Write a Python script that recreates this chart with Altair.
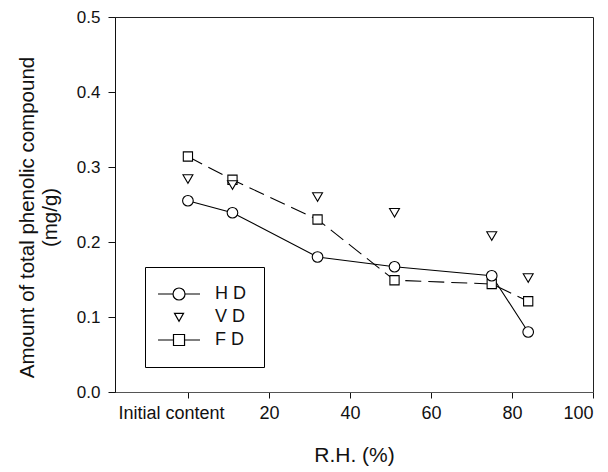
import altair as alt
import pandas as pd

# ---- data ----
rh = [0, 11, 32, 51, 75, 84]
hd = [0.255, 0.239, 0.180, 0.167, 0.155, 0.080]
vd = [0.284, 0.276, 0.260, 0.239, 0.208, 0.152]
fd = [0.314, 0.283, 0.230, 0.149, 0.144, 0.121]
series_names = ["H D", "V D", "F D"]
x_ticks = [0, 20, 40, 60, 80, 100]
y_ticks = [0.0, 0.1, 0.2, 0.3, 0.4, 0.5]

rows = []
for name, vals in zip(series_names, [hd, vd, fd]):
    for x, y in zip(rh, vals):
        rows.append({"rh": x, "val": y, "series": name})
df = pd.DataFrame(rows)

FONT = "Liberation Sans"

x_enc = alt.X(
    "rh:Q",
    scale=alt.Scale(domain=[-18, 100], nice=False, zero=False),
    axis=alt.Axis(
        values=x_ticks,
        title="R.H. (%)",
        labelExpr="datum.value == 0 ? 'Initial content' : datum.label",
        labelOffset={"condition": {"test": "datum.value == 0", "value": -17}, "value": 0},
        tickSize=6,
        labelPadding=6,
        labelFontSize=18,
        titleFontSize=21,
        titlePadding=22,
        grid=False,
        domainColor="#555555",
    ),
)
y_enc = alt.Y(
    "val:Q",
    scale=alt.Scale(domain=[0, 0.5], nice=False),
    axis=alt.Axis(
        values=y_ticks,
        format=".1f",
        title=["Amount of total phenolic compound", "(mg/g)"],
        tickSize=7,
        labelPadding=8,
        labelFontSize=17,
        titleFontSize=20.5,
        titleFontWeight="normal",
        titlePadding=16,
        titleY=200,
        grid=False,
    ),
)

base = alt.Chart(df)

hd_line = base.transform_filter("datum.series == 'H D'").mark_line(
    color="black", strokeWidth=1.1
).encode(x=x_enc, y=y_enc)

fd_line = base.transform_filter("datum.series == 'F D'").mark_line(
    color="black", strokeWidth=1.1, strokeDash=[16, 7]
).encode(x=x_enc, y=y_enc)

points = base.mark_point(
    filled=False, fill="white", fillOpacity=1, stroke="black", strokeWidth=1.1, opacity=1
).encode(
    x=x_enc,
    y=y_enc,
    shape=alt.Shape(
        "series:N",
        scale=alt.Scale(domain=series_names, range=["circle", "triangle-down", "square"]),
        legend=None,
    ),
    size=alt.Size(
        "series:N",
        scale=alt.Scale(domain=series_names, range=[113, 85, 121]),
        legend=None,
    ),
    order=alt.Order("series:N"),
)

# legend symbols (line + marker), in symbol units (1 unit = 6 px), shifted right by 1.17 units
legend_paths = [
    "M -2.33 0 L 0.17 0 M 2.17 0 L 4.67 0 M 2.17 0 A 1 1 0 1 1 0.17 0 A 1 1 0 1 1 2.17 0 Z",
    "M 0.42 -0.6 L 1.92 -0.6 L 1.17 0.7 Z",
    "M -2.33 0 L 0.25 0 M 2.09 0 L 4.67 0 M 0.25 -0.92 L 2.09 -0.92 L 2.09 0.92 L 0.25 0.92 Z",
]

legend_layer = base.transform_filter("false").transform_calculate(
    key="datum.series"
).mark_point(filled=False, stroke="black", strokeWidth=1.2, size=144, opacity=1).encode(
    x=x_enc,
    y=y_enc,
    shape=alt.Shape(
        "key:N",
        scale=alt.Scale(domain=series_names, range=legend_paths),
        legend=alt.Legend(
            title=None,
            orient="none",
            legendX=30,
            legendY=250,
            direction="vertical",
            labelFont=FONT,
            labelFontSize=18,
            labelColor="#111111",
            labelOffset=34,
            symbolSize=144,
            symbolStrokeWidth=1.2,
            symbolStrokeColor="black",
            symbolFillColor="white",
            symbolOpacity=1,
            rowPadding=5,
            padding=18,
            strokeColor="black",
            fillColor="white",
        ),
    ),
)

chart = (
    alt.layer(hd_line, fd_line, points, legend_layer)
    .resolve_scale(shape="independent", size="independent")
    .properties(
        width=478,
        height=375,
        autosize=alt.AutoSizeParams(type="none"),
        padding={"left": 107, "top": 9, "right": 7, "bottom": 80},
    )
    .configure(font=FONT)
    .configure_view(stroke="#222222", strokeWidth=1)
    .configure_axis(
        labelFont=FONT,
        titleFont=FONT,
        labelColor="#111111",
        titleColor="#111111",
        domainColor="#111111",
        tickColor="#111111",
        titleFontWeight="normal",
    )
)

chart.save("out.html", embed_options={"renderer": "svg", "actions": False})
